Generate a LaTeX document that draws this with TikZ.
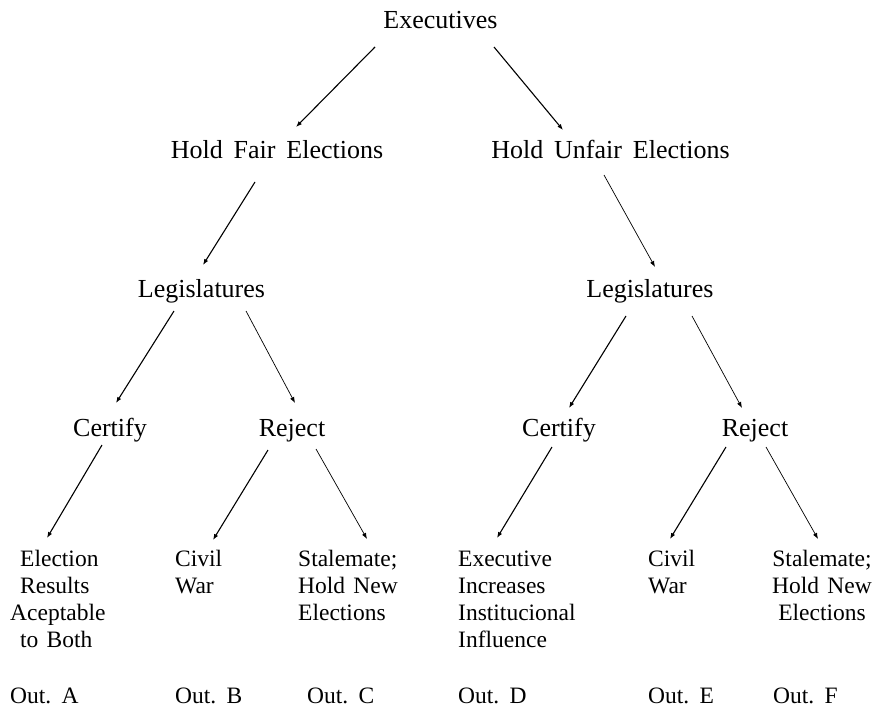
\documentclass[tikz,border=0pt]{standalone}
\usepackage{fontspec}
\setmainfont{Liberation Serif}
\usetikzlibrary{arrows.meta,calc}
\newcommand\myBigFont{\fontsize{26}{30}\selectfont\setlength{\spaceskip}{0.42em}}
\newcommand\mySmallFont{\fontsize{23.5}{27}\selectfont\setlength{\spaceskip}{0.35em}}
\begin{document}
\begin{tikzpicture}[x=1pt,y=-1pt,
  lab/.style={inner sep=0pt, anchor=base, font=\myBigFont},
  leaf/.style={inner sep=0pt, anchor=base west, font=\mySmallFont},
  thk/.style={line width=1.1pt, -{Latex[length=6pt,width=4.5pt]}},
  thn/.style={line width=0.7pt, -{Latex[length=6pt,width=4.5pt]}}]
\useasboundingbox (0,0) rectangle (875,709);
% inner nodes
\node[lab] (exec) at (440.5,29) {Executives};
\node[lab] (hfe) at (277,158) {Hold Fair Elections};
\node[lab] (hue) at (610.5,158) {Hold Unfair Elections};
\node[lab] (legl) at (201.5,297) {Legislatures};
\node[lab] (legr) at (650,297) {Legislatures};
\node[lab] (certl) at (110,436) {Certify};
\node[lab] (rejl) at (292,436) {Reject};
\node[lab] (certr) at (559,436) {Certify};
\node[lab] (rejr) at (755,436) {Reject};
% leaves
\node[leaf] (la) at (20,566) {\begin{tabular}[t]{@{}l@{}}Election\\Results\\\hspace*{-10pt}Aceptable\\to Both\end{tabular}};
\node[leaf] (lb) at (175,566) {\begin{tabular}[t]{@{}l@{}}Civil\\War\end{tabular}};
\node[leaf] (lc) at (298,566) {\begin{tabular}[t]{@{}l@{}}Stalemate;\\Hold New\\Elections\end{tabular}};
\node[leaf] (ld) at (458,566) {\begin{tabular}[t]{@{}l@{}}Executive\\Increases\\Institucional\\Influence\end{tabular}};
\node[leaf] (le) at (648,566) {\begin{tabular}[t]{@{}l@{}}Civil\\War\end{tabular}};
\node[leaf,anchor=base] (lf) at (822,566) {\begin{tabular}[t]{@{}c@{}}Stalemate;\\Hold New\\Elections\end{tabular}};
% outcome labels
\node[leaf] (oa) at (10,703) {Out. A};
\node[leaf] (ob) at (175,703) {Out. B};
\node[leaf] (oc) at (307,703) {Out. C};
\node[leaf] (od) at (458,703) {Out. D};
\node[leaf] (oe) at (648,703) {Out. E};
\node[leaf] (of) at (773,703) {Out. F};
% connectors
\draw[thk] ($(exec.base)+(-65.5,18)$) -- ($(hfe.base)+(19,-31)$);
\draw[thk] ($(exec.base)+(53.5,18)$) -- ($(hue.base)+(-47.5,-28)$);
\draw[thk] ($(hfe.base)+(-22,24)$) -- ($(legl.base)+(1.5,-32)$);
\draw[thn] ($(hue.base)+(-6.5,17)$) -- ($(legr.base)+(5,-30)$);
\draw[thk] ($(legl.base)+(-27.5,14)$) -- ($(certl.base)+(6,-33)$);
\draw[thn] ($(legl.base)+(44.5,14)$) -- ($(rejl.base)+(3,-33)$);
\draw[thk] ($(legr.base)+(-24,19)$) -- ($(certr.base)+(10,-28)$);
\draw[thn] ($(legr.base)+(42,19)$) -- ($(rejr.base)+(-13,-28)$);
\draw[thk] ($(certl.base)+(-8,9)$) -- ($(la.base west)+(27,-28)$);
\draw[thk] ($(rejl.base)+(-24,14)$) -- ($(lb.base west)+(38,-26)$);
\draw[thn] ($(rejl.base)+(24,13)$) -- ($(lc.base west)+(69,-27)$);
\draw[thk] ($(certr.base)+(-7,11)$) -- ($(ld.base west)+(39,-28)$);
\draw[thk] ($(rejr.base)+(-29,11)$) -- ($(le.base west)+(22,-27)$);
\draw[thn] ($(rejr.base)+(11,11)$) -- ($(lf.base)+(-4,-27)$);
\end{tikzpicture}
\end{document}
